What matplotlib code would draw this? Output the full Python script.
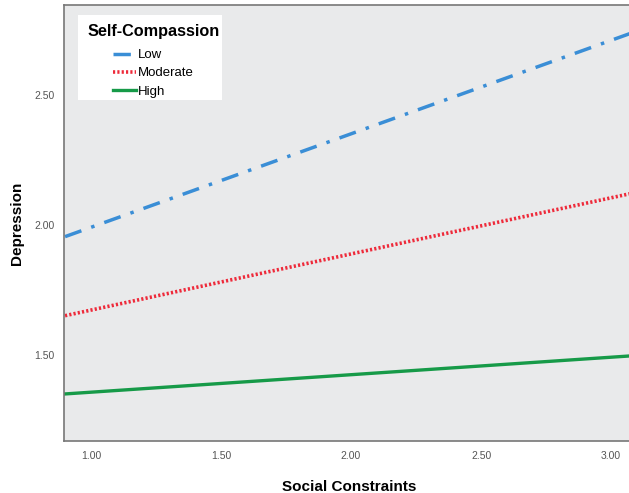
import matplotlib.pyplot as plt
from matplotlib.patches import Rectangle

plt.rcParams['font.family'] = ['Liberation Sans', 'DejaVu Sans']

# line endpoints (Social Constraints -> Depression)
x = [0.9, 3.1]
low = [1.955, 2.746]
moderate = [1.651, 2.126]
high = [1.350, 1.498]

xticks = [1.0, 1.5, 2.0, 2.5, 3.0]
yticks = [1.5, 2.0, 2.5]

fig = plt.figure(figsize=(6.29, 4.93), dpi=100)
ax = fig.add_axes([64/629, 52/493, 571/629, 436/493])
ax.set_facecolor('#e9eaeb')

ax.plot(x, low, color='#3a8ed6', linewidth=2.5, linestyle=(0, (5, 3, 1, 3)), label='Low')
ax.plot(x, moderate, color='#ee2a3a', linewidth=2.6, linestyle=(0, (0.6, 0.6)), label='Moderate')
ax.plot(x, high, color='#169a48', linewidth=2.4, label='High')

ax.set_xlim(0.896, 3.092)
ax.set_ylim(1.169, 2.846)
ax.set_xticks(xticks)
ax.set_xticklabels(['%.2f' % v for v in xticks])
ax.set_yticks(yticks)
ax.set_yticklabels(['%.2f' % v for v in yticks])
ax.tick_params(length=0, labelsize=7.5, labelcolor='#555555', pad=7)

for s in ['left', 'bottom', 'top']:
    ax.spines[s].set_color('#777777')
    ax.spines[s].set_linewidth(1.2)
ax.spines['right'].set_visible(False)

ax.set_xlabel('Social Constraints', fontsize=11, fontweight='bold', labelpad=14)
ax.set_ylabel('Depression', fontsize=11, fontweight='bold', labelpad=7)

# legend box
ax.add_patch(Rectangle((0.0245, 0.782), 0.252, 0.195, transform=ax.transAxes,
                       facecolor='white', edgecolor='none', zorder=3))
ax.text(0.042, 0.940, 'Self-Compassion', transform=ax.transAxes, fontsize=11.7,
        fontweight='bold', va='center', ha='left', zorder=4)
leg = ax.legend(loc='upper left', bbox_to_anchor=(0.085, 0.899), frameon=False,
                fontsize=9.5, handlelength=1.8, handletextpad=0.15,
                labelspacing=0.45, borderpad=0, borderaxespad=0)
leg.set_zorder(5)

plt.savefig('out.png', dpi=100)
